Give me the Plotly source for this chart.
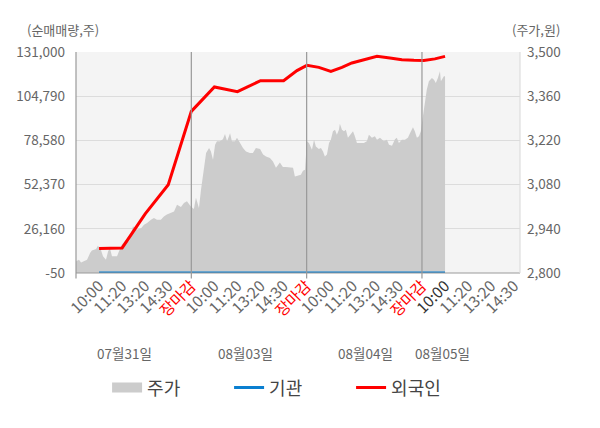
import numpy as np
import plotly.graph_objects as go

# ---- data ----
# time index: each trading day = 5 tick intervals (start, 10:00, 11:20, 13:20, 14:30, 장마감)
day_names = ["07월31일", "08월03일", "08월04일", "08월05일"]
tick_names = ["10:00", "11:20", "13:20", "14:30", "장마감"]

price_t = [0.0, 0.13, 0.22, 0.35, 0.48, 0.61, 0.69, 0.87, 0.95, 1.08, 1.17, 1.30, 1.39, 1.47, 1.56,
           1.65, 1.78, 1.86, 1.99, 2.17, 2.30, 2.47, 2.64, 2.82, 2.95, 3.08, 3.25, 3.38, 3.51, 3.68,
           3.81, 3.94, 4.12, 4.25, 4.38, 4.55, 4.68, 4.81, 4.98,
           5.11, 5.20, 5.33, 5.42, 5.51, 5.59, 5.64, 5.77, 5.85, 5.94, 6.03, 6.11, 6.24, 6.37, 6.46,
           6.55, 6.68, 6.76, 6.89, 6.98, 7.11, 7.24, 7.37, 7.54, 7.67, 7.80, 7.98, 8.11, 8.24, 8.41,
           8.54, 8.67, 8.84, 8.97, 9.10, 9.28, 9.41, 9.49, 9.62, 9.75, 9.84, 9.93,
           10.01, 10.10, 10.23, 10.32, 10.40, 10.53, 10.62, 10.71, 10.79, 10.88, 10.97, 11.05, 11.14,
           11.23, 11.31, 11.40, 11.44, 11.53, 11.62, 11.70, 11.79, 11.88, 12.01, 12.09, 12.18, 12.31,
           12.48, 12.61, 12.70, 12.83, 12.96, 13.05, 13.18, 13.35, 13.48, 13.57, 13.70, 13.83, 13.91,
           14.00, 14.13, 14.26, 14.39, 14.48, 14.61, 14.69, 14.78, 14.87, 14.95,
           15.04, 15.13, 15.21, 15.30, 15.43, 15.52, 15.60, 15.69, 15.78, 15.82, 15.95, 16.0]
price = [2837, 2842, 2833, 2837, 2842, 2863, 2871, 2876, 2886, 2874, 2853, 2842, 2868, 2879, 2853,
         2853, 2853, 2868, 2890, 2905, 2900, 2948, 2937, 2942, 2953, 2958, 2969, 2974, 2969, 2969,
         2979, 2985, 2990, 2995, 3016, 3009, 3022, 3027, 3011,
         3003, 3038, 3006, 3064, 3106, 3153, 3180, 3196, 3185, 3159, 3206, 3217, 3217, 3224, 3240,
         3217, 3243, 3217, 3217, 3228, 3212, 3196, 3185, 3180, 3180, 3196, 3193, 3175, 3169, 3164,
         3153, 3133, 3150, 3136, 3136, 3134, 3133, 3106, 3108, 3111, 3124, 3127,
         3217, 3212, 3190, 3222, 3201, 3193, 3196, 3185, 3169, 3175, 3212, 3222, 3249,
         3254, 3238, 3254, 3273, 3254, 3249, 3254, 3228, 3238, 3249, 3233, 3212, 3212,
         3212, 3217, 3238, 3228, 3233, 3222, 3228, 3217, 3222, 3206, 3203, 3224, 3228,
         3212, 3222, 3222, 3228, 3243, 3262, 3249, 3228, 3233, 3249,
         3296, 3338, 3381, 3407, 3418, 3412, 3402, 3418, 3439, 3407, 3423, 3423]

foreign_t = [1.0, 2.0, 3.0, 4.0, 5.0, 6.0, 7.0, 8.0, 9.0, 9.58, 10.01, 10.53, 11.05, 11.53, 11.96,
             12.53, 13.05, 13.61, 14.13, 14.65, 15.08, 15.56, 16.0]
foreign = [14500, 14800, 35000, 52300, 95800, 110300, 107500, 114000, 114000, 120000, 123080,
           121890, 119520, 121890, 124500, 126460, 128420, 127470, 126460, 126050, 125920,
           126930, 128420]

inst_t = [1.0, 16.0]
inst = [0, 0]

left_ticks = [-50, 26160, 52370, 78580, 104790, 131000]
right_ticks = [2800, 2940, 3080, 3220, 3360, 3500]

# ---- figure ----
FONT = "Noto Sans CJK KR"
GRAY = "#666666"

fig = go.Figure()
fig.add_trace(go.Scatter(x=price_t, y=price, name="주가", mode="lines",
                         line=dict(width=0, color="#cccccc"), fill="tozeroy",
                         fillcolor="#cccccc", yaxis="y", showlegend=False))
fig.add_trace(go.Scatter(x=[None], y=[None], name="주가", mode="lines",
                         line=dict(width=15, color="#cccccc"), yaxis="y"))
fig.add_trace(go.Scatter(x=inst_t, y=inst, name="기관", mode="lines",
                         line=dict(width=3, color="#0a7fd0"), yaxis="y2"))
fig.add_trace(go.Scatter(x=foreign_t, y=foreign, name="외국인", mode="lines",
                         line=dict(width=3, color="#ff0000"), yaxis="y2"))

tickvals, ticktext = [], []
for d in range(4):
    for k, nm in enumerate(tick_names):
        if d == 3 and k == 4:
            break
        tickvals.append(5 * d + k + 1)
        if nm == "장마감":
            ticktext.append('<span style="color:#ff0000">장마감</span>')
        elif d == 3 and k == 0:
            ticktext.append('<span style="color:#333333">' + nm + '</span>')
        else:
            ticktext.append(nm)

shapes = []
for d in range(1, 4):
    shapes.append(dict(type="line", xref="x", yref="paper", x0=5 * d, x1=5 * d,
                       y0=-0.025, y1=1, line=dict(color="#999999", width=1.2)))
shapes.append(dict(type="line", xref="paper", yref="paper", x0=0, x1=0, y0=-0.025, y1=1,
                   line=dict(color="#999999", width=1.2)))
shapes.append(dict(type="line", xref="paper", yref="paper", x0=0, x1=1, y0=0, y1=0,
                   line=dict(color="#999999", width=1.2)))
shapes.append(dict(type="line", xref="paper", yref="paper", x0=1, x1=1, y0=0, y1=1,
                   line=dict(color="#dddddd", width=1.2)))

annotations = [
    dict(text="(순매매량,주)", xref="paper", yref="paper", x=-0.115, y=1.1,
         xanchor="left", yanchor="middle", showarrow=False, font=dict(size=13, color=GRAY)),
    dict(text="(주가,원)", xref="paper", yref="paper", x=1.095, y=1.1,
         xanchor="right", yanchor="middle", showarrow=False, font=dict(size=13, color=GRAY)),
]
date_x = [2.12, 7.33, 12.53, 15.9]
for dx, nm in zip(date_x, day_names):
    annotations.append(dict(text=nm, xref="x", yref="paper", x=dx, y=-0.362,
                            xanchor="center", yanchor="middle", showarrow=False,
                            font=dict(size=13.5, color=GRAY)))

fig.update_layout(
    width=600, height=428,
    margin=dict(l=68, r=88, t=44, b=163, autoexpand=False),
    paper_bgcolor="white", plot_bgcolor="#f4f4f4",
    font=dict(family=FONT, color=GRAY, size=13),
    showlegend=True,
    legend=dict(orientation="h", x=0.07, xanchor="left", y=-0.52, yanchor="middle",
                font=dict(size=18, color="#444444"), itemwidth=30, tracegroupgap=0,
                entrywidth=77, entrywidthmode="pixels", traceorder="normal"),
    xaxis=dict(range=[0, 19.25], tickmode="array", tickvals=tickvals, ticktext=ticktext,
               tickangle=-45, showgrid=False, zeroline=False, showline=False, ticks="",
               automargin=False, tickfont=dict(size=15.5, color=GRAY)),
    yaxis=dict(side="right", range=[2800, 3500], tickmode="array", tickvals=right_ticks,
               ticktext=[f"{v:,}" for v in right_ticks], showgrid=True, gridcolor="#dcdcdc",
               gridwidth=1, zeroline=False, showline=False, ticks="", automargin=False,
               ticklabelstandoff=6, tickfont=dict(size=13.5, color=GRAY)),
    yaxis2=dict(side="left", overlaying="y", range=[-50, 131000], tickmode="array",
                tickvals=left_ticks, ticktext=[f"{v:,}" for v in left_ticks],
                showgrid=False, zeroline=False, showline=False, ticks="", automargin=False,
                ticklabelstandoff=10, tickfont=dict(size=13.5, color=GRAY)),
    shapes=shapes, annotations=annotations,
)

fig.write_html("out.html")
